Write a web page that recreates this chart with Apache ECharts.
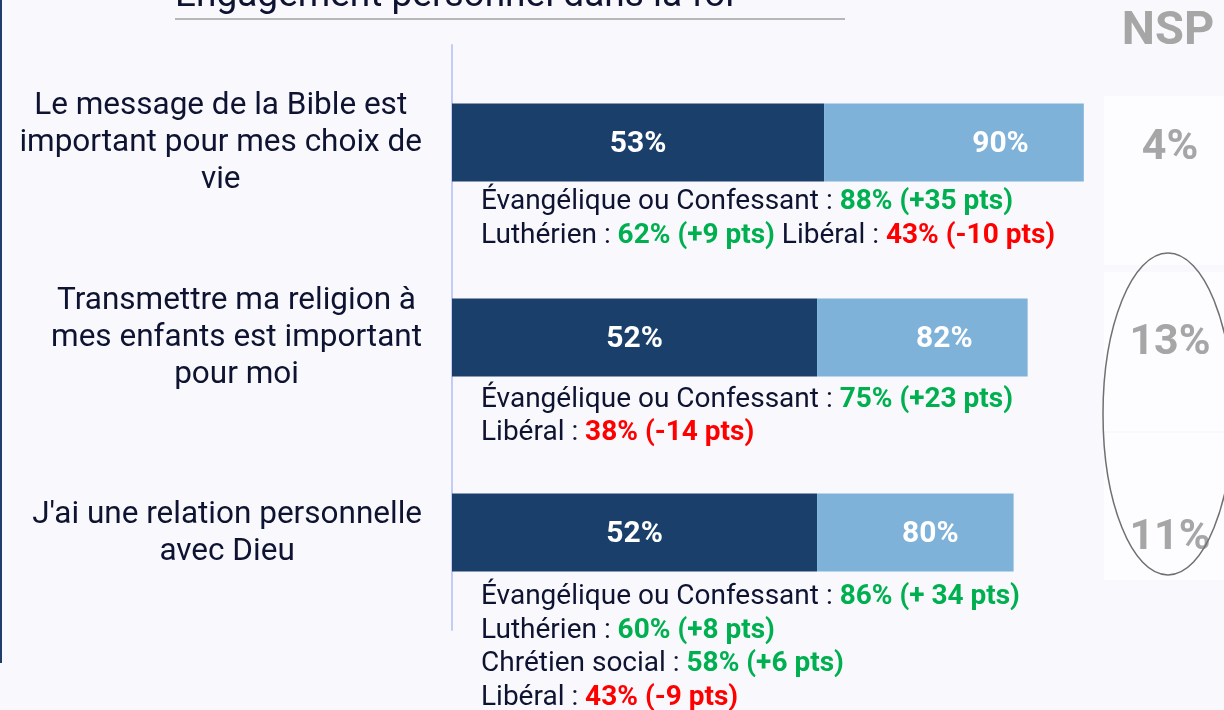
<!doctype html>
<html>
<head>
<meta charset="utf-8">
<title>Engagement personnel dans la foi</title>
<style>
  html, body { margin: 0; padding: 0; background: #F9F9FD; }
  #main { width: 1224px; height: 710px; }
</style>
</head>
<body>
<div id="main"></div>
<script src="https://cdn.jsdelivr.net/npm/echarts@6/dist/echarts.min.js"></script>
<script>
var categories = [
    'Le message de la Bible est\nimportant pour mes choix de\nvie',
    'Transmettre ma religion à\nmes enfants est important\npour moi',
    "J'ai une relation personnelle\navec Dieu"
];
var coreValues = [53, 52, 52];     // dark segment
var totalValues = [90, 82, 80];    // full bar
var nspValues = [4, 13, 11];

// per bar: lines of [group, value text, direction]
var notes = [
    [[['Évangélique ou Confessant', '88% (+35 pts)', 'up']],
     [['Luthérien', '62% (+9 pts)', 'up'], ['Libéral', '43% (-10 pts)', 'down']]],
    [[['Évangélique ou Confessant', '75% (+23 pts)', 'up']],
     [['Libéral', '38% (-14 pts)', 'down']]],
    [[['Évangélique ou Confessant', '86% (+ 34 pts)', 'up']],
     [['Luthérien', '60% (+8 pts)', 'up']],
     [['Chrétien social', '58% (+6 pts)', 'up']],
     [['Libéral', '43% (-9 pts)', 'down']]]
];

var restValues = totalValues.map(function (t, i) { return t - coreValues[i]; });

function noteText(lines) {
    return lines.map(function (line) {
        return line.map(function (p, k) {
            return '{n|' + (k ? ' ' : '') + p[0] + ' : }{' + (p[2] === 'up' ? 'g' : 'r') + '|' + p[1] + '}';
        }).join('');
    }).join('\n');
}

var chart = echarts.init(document.getElementById('main'), null, { renderer: 'canvas' });

var noteFont = { fontFamily: 'Roboto', fontSize: 28, lineHeight: 33.5 };

chart.setOption({
    backgroundColor: '#F9F9FD',
    animation: false,
    textStyle: { fontFamily: 'Roboto' },
    grid: { left: 452, top: 45, width: 702, height: 585 },
    xAxis: { type: 'value', min: 0, max: 100, show: false },
    yAxis: {
        type: 'category',
        data: categories,
        inverse: true,
        axisTick: { show: false },
        axisLine: { lineStyle: { color: '#C3CCF6', width: 2 } },
        axisLabel: {
            margin: 30,
            formatter: function (v) {
                return v.split('\n').map(function (s) { return '{c|' + s + '}'; }).join('\n');
            },
            rich: {
                c: { align: 'center', fontSize: 31.5, lineHeight: 37, color: '#0D1330', fontFamily: 'Roboto', padding: [2, 0, 0, 0] }
            }
        }
    },
    series: [{
        type: 'bar',
        stack: 'all',
        barWidth: 78,
        data: coreValues,
        itemStyle: { color: '#1A3F6B' },
        label: {
            show: true, position: 'inside', offset: [0, 2], color: '#fff',
            fontSize: 30, fontWeight: 'bold',
            formatter: '{c}%'
        }
    }, {
        type: 'bar',
        stack: 'all',
        barWidth: 78,
        data: restValues,
        itemStyle: { color: '#7FB2D9' },
        label: {
            show: true, position: 'insideRight', offset: [-50, 2], color: '#fff',
            fontSize: 30, fontWeight: 'bold',
            formatter: function (p) { return totalValues[p.dataIndex] + '%'; }
        }
    }, {
        type: 'custom',
        data: notes.map(function (n, i) { return [0, i]; }),
        encode: { x: 0, y: 1 },
        silent: true,
        clip: false,
        renderItem: function (params, api) {
            var p = api.coord([0, api.value(1)]);
            var i = params.dataIndex;
            return {
                type: 'group',
                children: [{
                    type: 'text',
                    x: p[0] + 29,
                    y: p[1] + 43 + i * 2.5,
                    style: {
                        text: noteText(notes[i]),
                        verticalAlign: 'top',
                        rich: {
                            n: Object.assign({ fill: '#0D1330' }, noteFont),
                            g: Object.assign({ fill: '#00B050', fontWeight: 'bold' }, noteFont),
                            r: Object.assign({ fill: '#FF0000', fontWeight: 'bold' }, noteFont)
                        }
                    }
                }, {
                    type: 'text',
                    x: 1170,
                    y: p[1] + 6,
                    style: {
                        text: nspValues[i] + '%',
                        align: 'center', verticalAlign: 'middle',
                        fill: '#A6A6A6', font: 'bold 43px Roboto'
                    }
                }]
            };
        }
    }],
    graphic: [
        { type: 'rect', z: -1, shape: { x: 1104, y: 96, width: 120, height: 169 }, style: { fill: '#FDFDFF' } },
        { type: 'rect', z: -1, shape: { x: 1104, y: 272, width: 120, height: 159 }, style: { fill: '#FDFDFF' } },
        { type: 'rect', z: -1, shape: { x: 1104, y: 433, width: 120, height: 147 }, style: { fill: '#FDFDFF' } },
        { type: 'line', shape: { x1: 1, y1: 0, x2: 1, y2: 663 }, style: { stroke: '#1F3F6B', lineWidth: 2 } },
        { type: 'text', x: 175, y: -3, style: { text: 'Engagement personnel dans la foi', font: '37px Roboto', fill: '#0D1330', verticalAlign: 'middle' } },
        { type: 'line', shape: { x1: 175, y1: 19, x2: 845, y2: 19 }, style: { stroke: '#A0A0A0', lineWidth: 1.5 } },
        { type: 'text', x: 1168, y: 32, style: { text: 'NSP', font: 'bold 47px Roboto', fill: '#A6A6A6', align: 'center', verticalAlign: 'middle' } },
        { type: 'ellipse', z: 100, shape: { cx: 1168, cy: 414, rx: 65, ry: 161 }, style: { fill: 'none', stroke: '#707070', lineWidth: 1.5 } }
    ]
});

window.onresize = chart.resize;
</script>
</body>
</html>
